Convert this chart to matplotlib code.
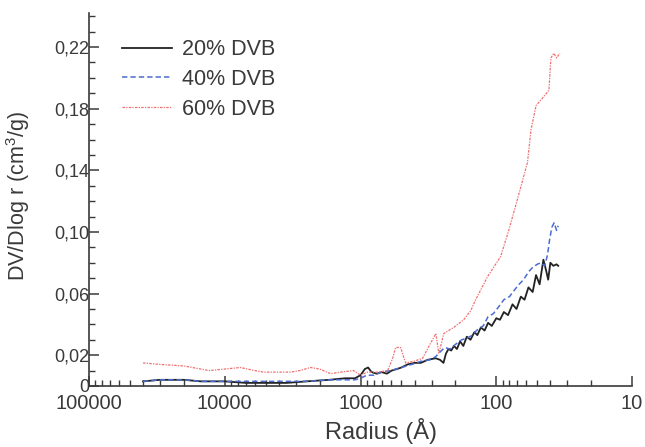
import matplotlib.pyplot as plt
from matplotlib.ticker import FixedLocator, FixedFormatter, LogLocator, NullFormatter

# 20% DVB
r_20 = [40000, 30000, 20000, 15000, 10000, 7000, 5000, 3500, 2500, 1700, 1300, 1100,
        1000, 930, 880, 830, 760, 700, 640, 590, 540, 500, 450, 400, 360, 320, 280,
        260, 245, 235, 225, 215, 205, 195, 185, 175, 165, 155, 145, 138, 130, 122,
        115, 108, 100, 94, 88, 82, 76, 71, 66, 62, 58, 54, 51, 48, 45, 43, 41.5, 40,
        38, 36, 35]
v_20 = [0.003, 0.004, 0.004, 0.003, 0.003, 0.002, 0.002, 0.002, 0.003, 0.004, 0.005, 0.005,
        0.007, 0.011, 0.012, 0.009, 0.008, 0.009, 0.008, 0.010, 0.011, 0.012, 0.014, 0.015,
        0.015, 0.017, 0.018, 0.017, 0.015, 0.021, 0.024, 0.023, 0.026, 0.024, 0.029, 0.026,
        0.032, 0.030, 0.035, 0.033, 0.038, 0.036, 0.041, 0.039, 0.044, 0.043, 0.048, 0.046,
        0.053, 0.050, 0.058, 0.056, 0.064, 0.061, 0.072, 0.066, 0.082, 0.075, 0.069, 0.080,
        0.078, 0.079, 0.078]

# 40% DVB
r_40 = [40000, 30000, 20000, 15000, 10000, 7000, 5000, 3500, 2500, 1700, 1300, 1100,
        1000, 900, 800, 700, 600, 500, 420, 360, 310, 280, 260, 240, 220, 200, 180,
        165, 150, 140, 125, 115, 105, 95, 88, 80, 74, 68, 63, 58, 54, 50, 47, 44, 42,
        40.5, 39, 37.5, 36, 35]
v_40 = [0.003, 0.004, 0.004, 0.003, 0.003, 0.003, 0.003, 0.003, 0.003, 0.004, 0.004, 0.004,
        0.005, 0.007, 0.007, 0.009, 0.010, 0.012, 0.014, 0.016, 0.017, 0.019, 0.022, 0.025,
        0.024, 0.027, 0.030, 0.031, 0.033, 0.036, 0.039, 0.045, 0.047, 0.052, 0.056, 0.058,
        0.062, 0.066, 0.069, 0.074, 0.077, 0.079, 0.080, 0.078, 0.085, 0.095, 0.103, 0.106,
        0.101, 0.104]

# 60% DVB
r_60 = [40000, 30000, 20000, 13000, 10000, 7700, 6000, 5200, 4000, 3300, 2800, 2340,
        2000, 1665, 1400, 1128, 1000, 890, 750, 632, 580, 552, 507, 466, 406, 349, 304,
        279, 265, 244, 206, 174, 154, 142, 116, 93, 81, 69, 59, 55.6, 51, 44.6, 41,
        39.6, 37.7, 36, 34]
v_60 = [0.015, 0.014, 0.013, 0.010, 0.011, 0.012, 0.010, 0.009, 0.009, 0.009, 0.010, 0.012,
        0.011, 0.008, 0.009, 0.010, 0.007, 0.009, 0.009, 0.010, 0.018, 0.025, 0.025, 0.015,
        0.016, 0.018, 0.028, 0.034, 0.021, 0.034, 0.038, 0.043, 0.049, 0.056, 0.071, 0.084,
        0.101, 0.123, 0.145, 0.166, 0.182, 0.188, 0.192, 0.213, 0.216, 0.213, 0.216]

y_ticks = [0, 0.02, 0.06, 0.10, 0.14, 0.18, 0.22]
y_tick_labels = ["0", "0,02", "0,06", "0,10", "0,14", "0,18", "0,22"]
x_ticks = [100000, 10000, 1000, 100, 10]
x_tick_labels = ["100000", "10000", "1000", "100", "10"]

plt.rcParams['font.family'] = ['Liberation Sans', 'DejaVu Sans']
plt.rcParams['mathtext.fontset'] = 'custom'
plt.rcParams['mathtext.rm'] = 'Liberation Sans'
txt = '#3a3a3a'

fig = plt.figure(figsize=(6.45, 4.47), dpi=100)
ax = fig.add_axes([0.138, 0.1365, 0.842, 0.834])

ax.plot(r_20, v_20, color='#222222', lw=1.3, ls='-', label='20% DVB')
ax.plot(r_40, v_40, color='#4a6cd0', lw=1.1, ls=(0, (3.5, 2)), label='40% DVB')
ax.plot(r_60, v_60, color='#f07070', lw=0.9, ls=(0, (2, 1, 1, 1)), label='60% DVB')

ax.set_xscale('log')
ax.set_xlim(100000, 10)
ax.set_ylim(0, 0.242)

ax.xaxis.set_major_locator(FixedLocator(x_ticks))
ax.xaxis.set_major_formatter(FixedFormatter(x_tick_labels))
ax.xaxis.set_minor_locator(LogLocator(base=10, subs=range(2, 10)))
ax.xaxis.set_minor_formatter(NullFormatter())

ax.yaxis.set_major_locator(FixedLocator(y_ticks))
ax.yaxis.set_major_formatter(FixedFormatter(y_tick_labels))
ax.yaxis.set_minor_locator(FixedLocator([i / 100 for i in range(25)]))

ax.tick_params(which='major', direction='in', length=7, width=1.1, colors=txt)
ax.tick_params(which='minor', direction='in', length=4, width=1.0, colors=txt)
ax.tick_params(axis='x', which='major', labelsize=14.5, pad=6)
ax.tick_params(axis='y', which='major', labelsize=13, pad=0)

for side in ('top', 'right'):
    ax.spines[side].set_visible(False)
for side in ('left', 'bottom'):
    ax.spines[side].set_color(txt)
    ax.spines[side].set_linewidth(1.2)

ax.set_xlabel('Radius (Å)', fontsize=17, color=txt)
ax.xaxis.set_label_coords(0.538, -0.085)
ax.set_ylabel('DV/Dlog r (cm$^3$/g)', fontsize=15.5, color=txt)
ax.yaxis.set_label_coords(-0.105, 0.51)

leg = ax.legend(loc='upper left', bbox_to_anchor=(0.061, 0.93), frameon=False,
                borderpad=0, borderaxespad=0, fontsize=15.5, handlelength=2.3,
                labelspacing=0.4, handletextpad=0.5)
for t in leg.get_texts():
    t.set_color(txt)

fig.savefig('out.png', dpi=100)
